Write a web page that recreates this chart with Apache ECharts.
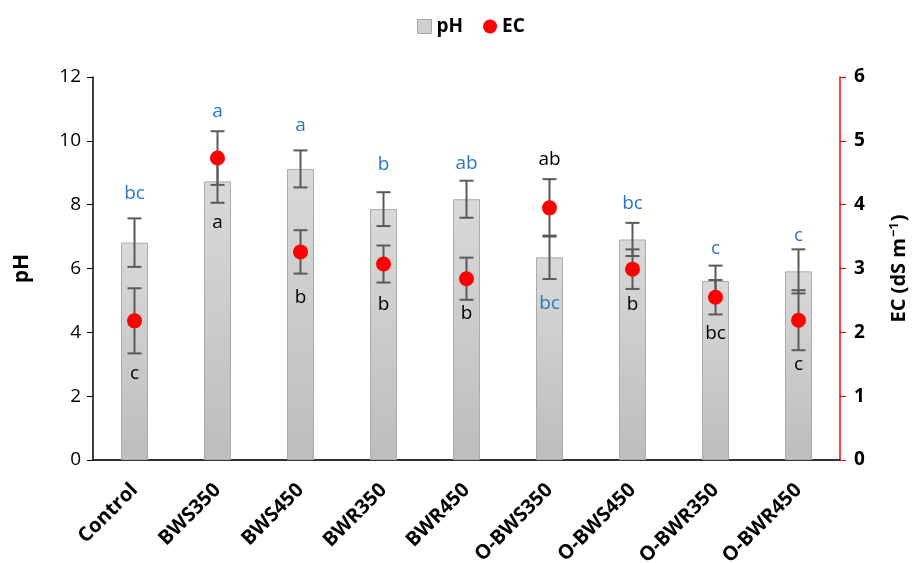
<!DOCTYPE html>
<html>
<head>
<meta charset="utf-8">
<script src="https://cdn.jsdelivr.net/npm/echarts@6/dist/echarts.min.js"></script>
<style>html,body{margin:0;padding:0;background:#fff}#c{width:913px;height:563px}</style>
</head>
<body>
<div id="c"></div>
<script>
const categories = ['Control','BWS350','BWS450','BWR350','BWR450','O-BWS350','O-BWS450','O-BWR350','O-BWR450'];
const phMean = [6.81, 8.73, 9.12, 7.86, 8.17, 6.35, 6.91, 5.61, 5.91];
const phErr  = [0.76, 0.67, 0.58, 0.53, 0.58, 0.68, 0.52, 0.48, 0.69];
const ecMean = [2.18, 4.73, 3.26, 3.07, 2.84, 3.95, 2.99, 2.55, 2.19];
const ecErr  = [0.51, 0.42, 0.34, 0.29, 0.33, 0.45, 0.31, 0.27, 0.47];
const phLetters = ['bc','a','a','b','ab','bc','bc','c','c'];
const phLetterY = [8.36, 10.91, 10.49, 9.24, 9.30, 4.91, 8.04, 6.63, 7.02];
const ecLetters = ['c','a','b','b','b','ab','b','bc','c'];
const ecLetterY = [1.35, 3.72, 2.54, 2.43, 2.30, 4.70, 2.44, 1.98, 1.50];
const leftTicks = [0, 12, 2];
const rightTicks = [0, 6, 1];

const FONT = '"Open Sans", "Liberation Sans", sans-serif';

function errData(mean, err, letters, ly) {
  return mean.map((m, i) => [i, m - err[i], m + err[i], ly[i], letters[i]]);
}
function makeRender(color, letters) {
  return function (params, api) {
    const i = api.value(0);
    const lo = api.coord([i, api.value(1)]);
    const hi = api.coord([i, api.value(2)]);
    const lp = api.coord([i, api.value(3)]);
    const cap = 7;
    const ls = { stroke: '#5a5a5a', lineWidth: 2 };
    return {
      type: 'group',
      children: [
        { type: 'line', shape: { x1: hi[0], y1: hi[1], x2: lo[0], y2: lo[1] }, style: ls },
        { type: 'line', shape: { x1: hi[0] - cap, y1: hi[1], x2: hi[0] + cap, y2: hi[1] }, style: ls },
        { type: 'line', shape: { x1: lo[0] - cap, y1: lo[1], x2: lo[0] + cap, y2: lo[1] }, style: ls },
        { type: 'text', z2: 10, style: { text: letters[params.dataIndex], x: lp[0], y: lp[1], align: 'center', verticalAlign: 'middle', fill: color, fontSize: 19, fontFamily: FONT } }
      ]
    };
  };
}

const chart = echarts.init(document.getElementById('c'));
chart.setOption({
  animation: false,
  legend: {
    top: 12, left: 412, itemGap: 20, itemWidth: 14, itemHeight: 14,
    textStyle: { fontFamily: FONT, fontWeight: 'bold', fontSize: 19, color: '#000' },
    data: [
      { name: 'pH', icon: 'rect', itemStyle: { color: '#cfcfcf', borderColor: '#a8a8a8', borderWidth: 1 } },
      { name: 'EC', icon: 'circle', itemStyle: { color: '#ff0000' } }
    ]
  },
  grid: { left: 93, right: 73, top: 77, bottom: 103, containLabel: false, outerBoundsMode: 'none' },
  xAxis: {
    type: 'category', data: categories,
    axisLine: { lineStyle: { color: '#333', width: 2 } },
    axisTick: { show: false },
    axisLabel: { rotate: 45, interval: 0, fontFamily: FONT, fontWeight: 'bold', fontSize: 20, color: '#000', margin: 27 }
  },
  yAxis: [
    {
      type: 'value', min: leftTicks[0], max: leftTicks[1], interval: leftTicks[2],
      name: 'pH', nameLocation: 'middle', nameRotate: 90, nameGap: 60,
      nameTextStyle: { fontFamily: FONT, fontWeight: 'bold', fontSize: 21, color: '#000' },
      axisLine: { show: true, lineStyle: { color: '#000', width: 1.5 } },
      axisTick: { show: true, length: 6, lineStyle: { color: '#000' } },
      axisLabel: { fontFamily: FONT, fontSize: 19, color: '#000', margin: 12 },
      splitLine: { show: false }
    },
    {
      type: 'value', min: rightTicks[0], max: rightTicks[1], interval: rightTicks[2], position: 'right',
      name: '{a|EC (dS m}{s|−1}{a|)}', nameLocation: 'middle', nameRotate: 90, nameGap: 48,
      nameTextStyle: { rich: {
        a: { fontFamily: FONT, fontWeight: 'bold', fontSize: 20, color: '#000' },
        s: { fontFamily: FONT, fontWeight: 'bold', fontSize: 13, color: '#000', verticalAlign: 'top', padding: [0, 1, 10, 1] }
      } },
      axisLine: { show: true, lineStyle: { color: '#ff0000', width: 1.5 } },
      axisTick: { show: true, length: 6, lineStyle: { color: '#ff0000' } },
      axisLabel: { fontFamily: FONT, fontWeight: 'bold', fontSize: 19, color: '#000', margin: 14 },
      splitLine: { show: false }
    }
  ],
  series: [
    {
      name: 'pH', type: 'bar', data: phMean, barWidth: 27, yAxisIndex: 0, z: 1,
      itemStyle: {
        color: new echarts.graphic.LinearGradient(0, 0, 0, 1, [
          { offset: 0, color: '#d9d9d9' }, { offset: 1, color: '#bdbdbd' }
        ]),
        borderColor: '#ababab', borderWidth: 1
      }
    },
    {
      name: 'pHErr', type: 'custom', yAxisIndex: 0, z: 3,
      data: errData(phMean, phErr, phLetters, phLetterY),
      renderItem: makeRender('#2a78c8', phLetters),
      encode: { x: 0, y: [1, 2] }
    },
    {
      name: 'ECErr', type: 'custom', yAxisIndex: 1, z: 4,
      data: errData(ecMean, ecErr, ecLetters, ecLetterY),
      renderItem: makeRender('#000', ecLetters),
      encode: { x: 0, y: [1, 2] }
    },
    {
      name: 'EC', type: 'scatter', yAxisIndex: 1, data: ecMean, symbol: 'circle', symbolSize: 15, z: 5,
      itemStyle: { color: '#ff0000', opacity: 1 }
    }
  ]
});
</script>
</body>
</html>
